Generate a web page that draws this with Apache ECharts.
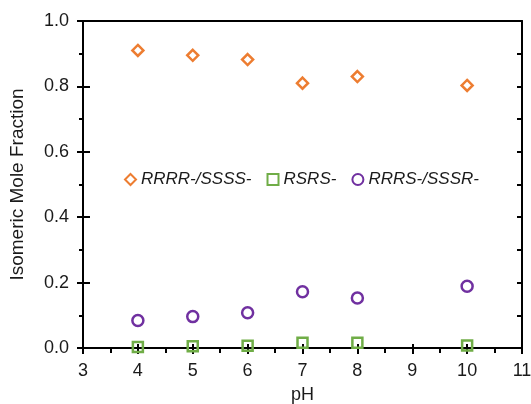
<!DOCTYPE html>
<html>
<head>
<meta charset="utf-8">
<script src="https://cdn.jsdelivr.net/npm/echarts@6/dist/echarts.min.js"></script>
<style>
  html, body { margin: 0; padding: 0; background: #fff; }
  #box { width: 531px; height: 404px; }
</style>
</head>
<body>
<div id="box"></div>
<script>
// pH values and mole fractions
const ph = [4, 5, 6, 7, 8, 10]
const rrrr = [0.910, 0.895, 0.882, 0.810, 0.830, 0.803]
const rsrs = [0.003, 0.005, 0.007, 0.016, 0.016, 0.008]
const rrrs = [0.084, 0.096, 0.108, 0.172, 0.153, 0.189]

const names = ['RRRR-/SSSS-', 'RSRS-', 'RRRS-/SSSR-']
const colors = ['#ED7D31', '#70AD47', '#7030A0']
const symbols = ['diamond', 'rect', 'circle']

const pairs = (ys) => ph.map((x, i) => [x, ys[i]])

const font = 'Liberation Sans, Arial, sans-serif'
const black = () => ({ color: '#000', width: 2 })
const axisLine = () => ({ show: true, onZero: false, lineStyle: black() })

// hollow markers: see-through fill, coloured outline, no default scatter opacity
const marker = (i, size, data) => ({
  name: names[i], type: 'scatter', symbol: symbols[i], symbolSize: size,
  itemStyle: { color: 'rgba(255,255,255,0)', borderColor: colors[i], borderWidth: 2.5, opacity: 1 },
  data: data
})

const chart = echarts.init(document.getElementById('box'))

const option = {
  animation: false,
  grid: { left: 83, right: 9, top: 21, bottom: 56, outerBoundsMode: 'none' },
  legend: {
    data: names,
    left: 119,
    top: 166,
    itemWidth: 11,
    itemHeight: 11,
    itemGap: 15,
    textStyle: { fontFamily: font, fontSize: 17, fontStyle: 'italic', color: '#1a1a1a' }
  },
  xAxis: [
    {
      type: 'value', min: 3, max: 11, interval: 1,
      name: 'pH', nameLocation: 'middle', nameGap: 38,
      nameTextStyle: { fontFamily: font, fontSize: 18, color: '#1a1a1a' },
      axisLine: axisLine(),
      axisTick: { show: true, length: 6, lineStyle: black() },
      minorTick: { show: true, splitNumber: 2, length: 5, lineStyle: black() },
      axisLabel: { fontFamily: font, fontSize: 18, color: '#1a1a1a', margin: 14 },
      splitLine: { show: false }
    },
    {
      // inward half of the major ticks
      type: 'value', min: 3, max: 11, interval: 1, position: 'bottom',
      axisLine: { show: false },
      axisTick: { show: true, inside: true, length: 4, lineStyle: black() },
      axisLabel: { show: false },
      splitLine: { show: false }
    },
    {
      type: 'value', min: 3, max: 11, position: 'top',
      axisLine: axisLine(),
      axisTick: { show: false },
      axisLabel: { show: false },
      splitLine: { show: false }
    }
  ],
  yAxis: [
    {
      type: 'value', min: 0, max: 1, interval: 0.2,
      name: 'Isomeric Mole Fraction', nameLocation: 'middle', nameGap: 56,
      nameTextStyle: { fontFamily: font, fontSize: 19, color: '#1a1a1a' },
      axisLine: axisLine(),
      axisTick: { show: true, length: 6, lineStyle: black() },
      minorTick: { show: true, splitNumber: 2, length: 4, lineStyle: black() },
      axisLabel: { fontFamily: font, fontSize: 18, color: '#1a1a1a', margin: 14, formatter: v => v.toFixed(1) },
      splitLine: { show: false }
    },
    {
      type: 'value', min: 0, max: 1, interval: 0.2, position: 'left',
      axisLine: { show: false },
      axisTick: { show: true, inside: true, length: 7, lineStyle: black() },
      axisLabel: { show: false },
      splitLine: { show: false }
    },
    {
      type: 'value', min: 0, max: 1, interval: 0.1, position: 'right',
      axisLine: axisLine(),
      axisTick: { show: true, inside: true, length: 5, lineStyle: black() },
      axisLabel: { show: false },
      splitLine: { show: false }
    }
  ],
  series: [
    marker(0, 11, pairs(rrrr)),
    marker(1, 10, pairs(rsrs)),
    marker(2, 11, pairs(rrrs))
  ]
}

chart.setOption(option)
</script>
</body>
</html>
